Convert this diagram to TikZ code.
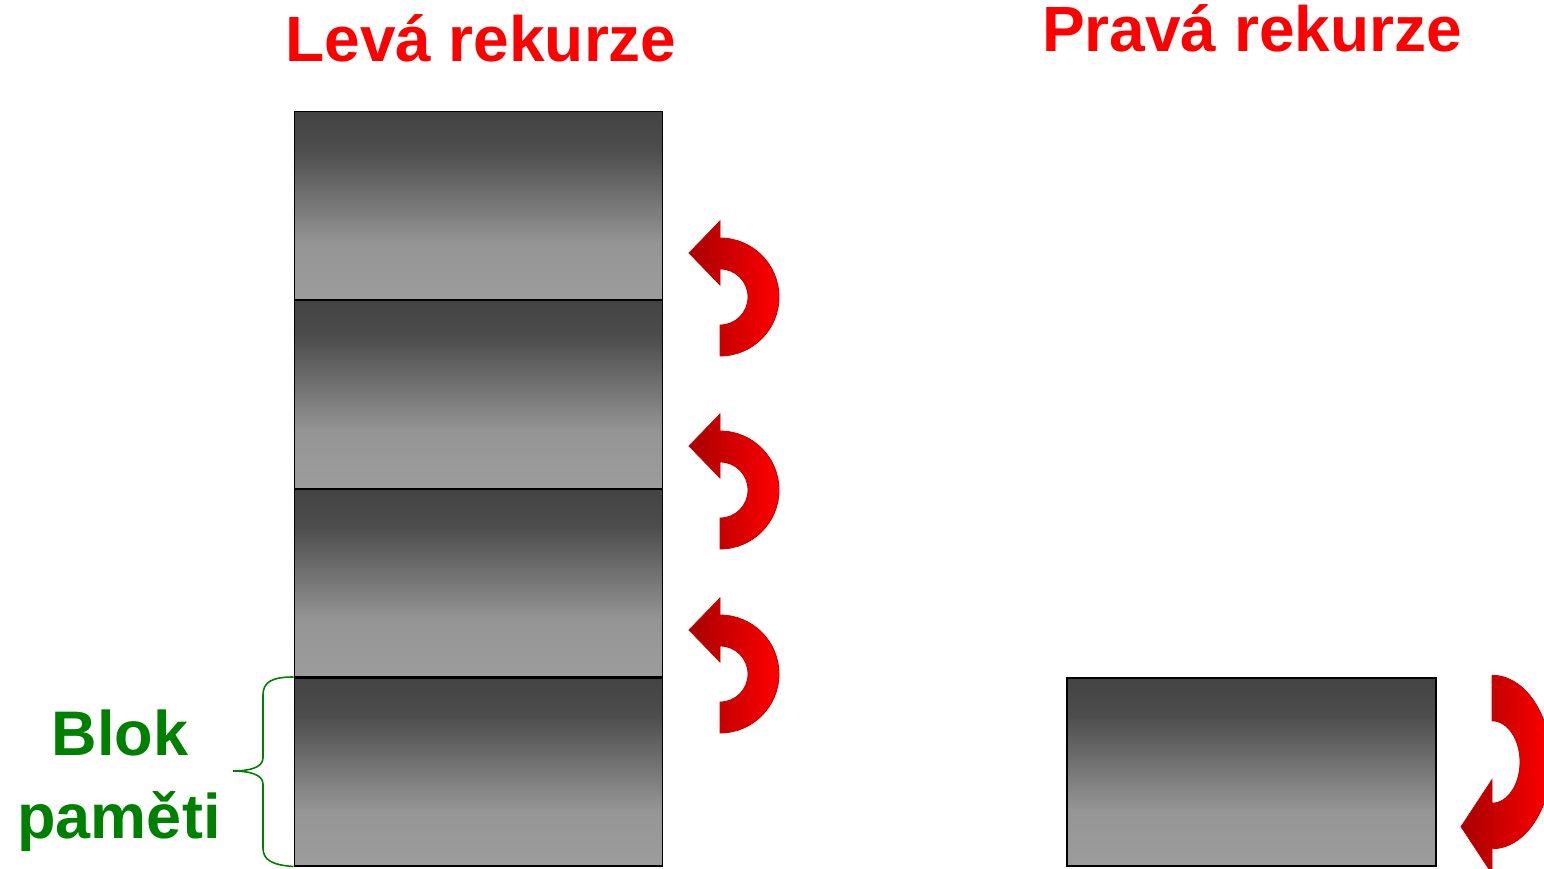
\documentclass[tikz,border=0pt]{standalone}
\usepackage{fontspec}
\setmainfont{Liberation Sans}
\begin{document}
\definecolor{titlered}{RGB}{255,0,0}
\definecolor{blokgreen}{RGB}{0,128,0}
\definecolor{arrowdark}{RGB}{168,0,0}
\definecolor{arrowlight}{RGB}{255,0,0}
\definecolor{arrowedge}{RGB}{200,0,0}
\definecolor{gA}{RGB}{67,67,67}
\definecolor{gB}{RGB}{77,77,77}
\definecolor{gC}{RGB}{120,120,120}
\definecolor{gD}{RGB}{149,149,149}
\definecolor{gE}{RGB}{156,156,156}
\pgfdeclareverticalshading{memshade}{100bp}{color(0bp)=(gE); color(25bp)=(gE);
  color(40bp)=(gD); color(50bp)=(gC); color(65bp)=(gB); color(75bp)=(gA); color(100bp)=(gA)}
\begin{tikzpicture}[x=1pt,y=-1pt,
  memblock/.style={draw=black,line width=1.5pt,shading=memshade,
    minimum width=368pt,minimum height=188pt,inner sep=0pt,anchor=north west},
  title/.style={text=titlered,font=\bfseries\fontsize{64}{64}\selectfont,anchor=base},
  label/.style={text=blokgreen,font=\bfseries\fontsize{63}{63}\selectfont,anchor=base},
  turnarrow/.style={left color=arrowdark,right color=arrowlight,draw=arrowedge,line width=0.8pt},
  bracestyle/.style={draw=blokgreen,line width=1.6pt}]
\useasboundingbox (0,0) rectangle (1544,869);
\clip (0,0) rectangle (1544,869);

% titles
\node[title] (tleft) at (481,62) {Levá rekurze};
\node[title] (tright) at (1252,52) {Pravá rekurze};

% memory blocks of the left recursion
\node[memblock] (b1) at (293.5,111) {};
\node[memblock] (b2) at (293.5,299.5) {};
\node[memblock] (b3) at (293.5,488) {};
\node[memblock] (b4) at (293.5,677) {};

% single block of the right recursion
\node[memblock,minimum width=369pt] (r1) at (1066,677) {};

% turning arrows beside the left stack
\foreach \cy in {297,490,674}{
  \begin{scope}[shift={(720,\cy)},yscale=-1]
    \path[turnarrow] (0,59) arc[start angle=90,end angle=-90,radius=59]
      -- (0,-28) arc[start angle=-90,end angle=90,radius=28]
      -- (0,12) -- (-31,44) -- (0,76) -- cycle;
  \end{scope}
}

% turning arrow beside the right block (mirrored, stretched)
\begin{scope}[shift={(1492,762)},yscale=1.47]
  \path[turnarrow] (0,59) arc[start angle=90,end angle=-90,radius=59]
    -- (0,-28) arc[start angle=-90,end angle=90,radius=28]
    -- (0,12) -- (-31,44) -- (0,76) -- cycle;
\end{scope}

% brace marking one memory block
\draw[bracestyle] (b4.north west) .. controls (272,677) and (263,682) .. (263,695)
  -- (263,758) .. controls (263,768) and (248,771) .. (233,771)
  .. controls (248,771) and (263,774) .. (263,784)
  -- (263,848) .. controls (263,860) and (272,865) .. (b4.south west);

\node[label] (blok) at (120,755) {Blok};
\node[label] (pam) at (119,838) {paměti};
\end{tikzpicture}
\end{document}
